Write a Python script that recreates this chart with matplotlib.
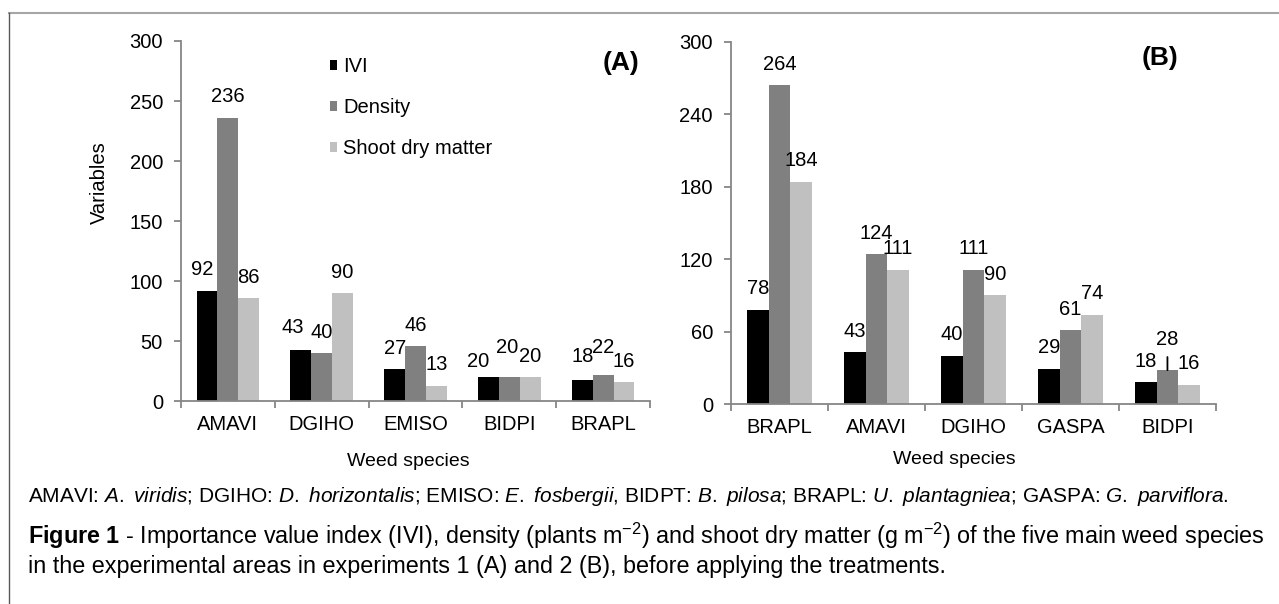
import matplotlib
matplotlib.use("Agg")
import matplotlib.pyplot as plt
from matplotlib.lines import Line2D
import numpy as np

# data
series_names = ["IVI", "Density", "Shoot dry matter"]
series_colors = ["#000000", "#808080", "#c0c0c0"]

species_a = ["AMAVI", "DGIHO", "EMISO", "BIDPI", "BRAPL"]
ivi_a = [92, 43, 27, 20, 18]
density_a = [236, 40, 46, 20, 22]
sdm_a = [86, 90, 13, 20, 16]

species_b = ["BRAPL", "AMAVI", "DGIHO", "GASPA", "BIDPI"]
ivi_b = [78, 43, 40, 29, 18]
density_b = [264, 124, 111, 61, 28]
sdm_b = [184, 111, 90, 74, 16]

plt.rcParams["font.family"] = ["Liberation Sans", "DejaVu Sans"]
plt.rcParams["mathtext.fontset"] = "custom"
plt.rcParams["mathtext.rm"] = "Liberation Sans"
plt.rcParams["mathtext.it"] = "Liberation Sans:italic"
plt.rcParams["mathtext.bf"] = "Liberation Sans:bold"

AXIS_GRAY = "#868686"
FS = 14.5


def draw_panel(ax, species, values, ymax, ystep, tag, nudges, leaders, tag_xy):
    n = len(species)
    w = 1 / 4.5
    x = np.arange(n)
    for j, vals in enumerate(values):
        ax.bar(x + (j - 1) * w, vals, width=w, color=series_colors[j],
               label=series_names[j], zorder=2)
        for i, v in enumerate(vals):
            dx, dy = nudges.get((j, i), (0, 21))
            kw = {}
            if (j, i) in leaders:
                kw["arrowprops"] = dict(arrowstyle="-", color="black", lw=1.3,
                                        shrinkA=4, shrinkB=0)
            ax.annotate(str(v), xy=(x[i] + (j - 1) * w, v), xytext=(dx, dy),
                        textcoords="offset pixels", ha="center", va="center",
                        fontsize=FS, **kw)

    ax.set_xlim(-0.5, n - 0.5)
    ax.set_ylim(0, ymax)
    ax.set_yticks(np.arange(0, ymax + 1, ystep))
    # tick marks between categories, names centred under the groups
    ax.set_xticks(np.arange(n + 1) - 0.5)
    ax.set_xticklabels([])
    ax.set_xticks(x, minor=True)
    ax.set_xticklabels(species, minor=True, fontsize=FS)
    ax.tick_params(axis="x", which="major", length=5, color=AXIS_GRAY, width=1.3)
    ax.tick_params(axis="x", which="minor", length=0, pad=10)
    ax.tick_params(axis="y", length=5, color=AXIS_GRAY, width=1.3, labelsize=FS, pad=8)
    for s in ["top", "right"]:
        ax.spines[s].set_visible(False)
    for s in ["left", "bottom"]:
        ax.spines[s].set_color(AXIS_GRAY)
        ax.spines[s].set_linewidth(1.3)
    ax.text(tag_xy[0], tag_xy[1], tag, transform=ax.transAxes, ha="center",
            va="center", fontsize=19, fontweight="bold")


fig = plt.figure(figsize=(12.79, 6.04), dpi=100)
axA = fig.add_axes([0.1415, 0.3353, 0.3667, 0.5969])
axB = fig.add_axes([0.5715, 0.3311, 0.3792, 0.5998])

nudges_a = {(0, 0): (-5, 21), (0, 1): (-8, 22), (0, 3): (-10, 16), (1, 3): (-2, 30),
            (0, 4): (0, 23), (1, 4): (0, 28)}
draw_panel(axA, species_a, [ivi_a, density_a, sdm_a], 300, 50, "(A)", nudges_a, set(),
           (0.938, 0.939))
axA.legend(loc="upper left", bbox_to_anchor=(0.3, 0.978), frameon=False, fontsize=FS,
           handlelength=0.36, handleheight=0.36, handletextpad=0.3, labelspacing=1.1,
           borderaxespad=0)

nudges_b = {(1, 4): (0, 31)}
draw_panel(axB, species_b, [ivi_b, density_b, sdm_b], 300, 60, "(B)", nudges_b, {(1, 4)},
           (0.885, 0.955))

H = 604.0
W = 1279.0
fig.text(99 / W, 1 - 183 / H, "Variables", rotation=90, ha="center", va="center", fontsize=FS)
fig.text(408 / W, 1 - 462 / H, "Weed species", ha="center", va="center", fontsize=14)
fig.text(954 / W, 1 - 459 / H, "Weed species", ha="center", va="center", fontsize=14)

caption1 = (r"AMAVI: $\mathit{A.\ viridis}$; DGIHO: $\mathit{D.\ horizontalis}$; "
            r"EMISO: $\mathit{E.\ fosbergii}$, BIDPT: $\mathit{B.\ pilosa}$; "
            r"BRAPL: $\mathit{U.\ plantagniea}$; GASPA: $\mathit{G.\ parviflora}$.")
fig.text(28 / W, 1 - 497 / H, caption1, ha="left", va="center", fontsize=15)

caption2 = (r"$\mathbf{Figure\ 1}$ - Importance value index (IVI), density (plants m$^{-2}$) "
            r"and shoot dry matter (g m$^{-2}$) of the five main weed species")
caption3 = "in the experimental areas in experiments 1 (A) and 2 (B), before applying the treatments."
fig.text(28 / W, 1 - 536 / H, caption2, ha="left", va="center", fontsize=16.8)
fig.text(28 / W, 1 - 567 / H, caption3, ha="left", va="center", fontsize=16.8)

# outer frame lines
fig.add_artist(Line2D([9 / W, 1.0], [1 - 13 / H, 1 - 13 / H], color="#a6a6a6", lw=1.5))
fig.add_artist(Line2D([9 / W, 9 / W], [0, 1 - 13 / H], color="#595959", lw=1.0))

fig.savefig("out.png", dpi=100)
